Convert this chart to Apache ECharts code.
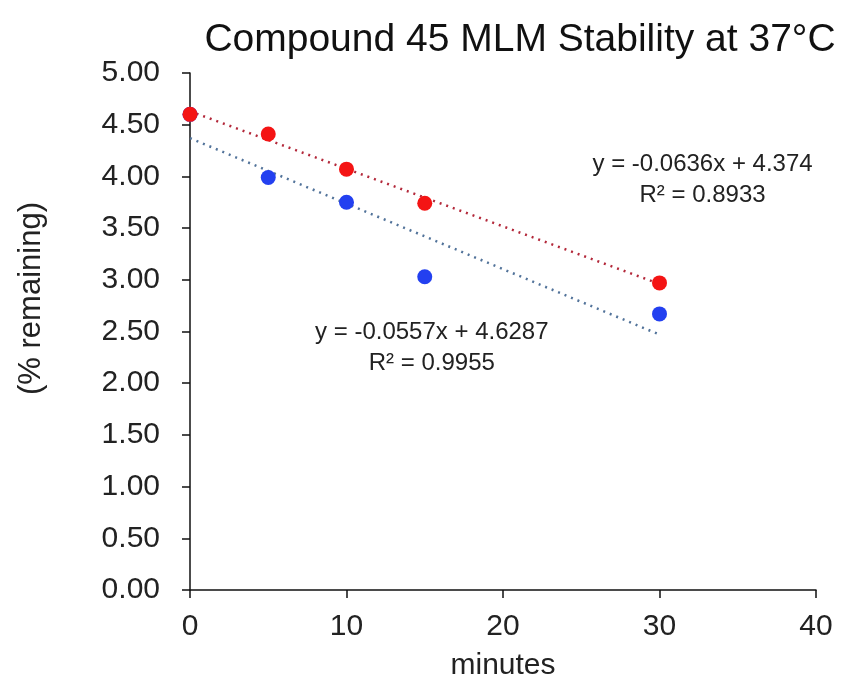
<!DOCTYPE html>
<html>
<head>
<meta charset="utf-8">
<title>Compound 45 MLM Stability</title>
<script src="https://cdn.jsdelivr.net/npm/echarts@6/dist/echarts.min.js"></script>
<style>
  html, body { margin: 0; padding: 0; background: #fff; }
  #main { width: 847px; height: 687px; }
</style>
</head>
<body>
<div id="main"></div>
<script>
const minutes = [0, 5, 10, 15, 30];
const redValues = [4.60, 4.41, 4.07, 3.74, 2.97];
const blueValues = [4.60, 3.99, 3.75, 3.03, 2.67];

// trendline end points
const redTrend = [[0, 4.63], [30, 2.96]];
const blueTrend = [[0, 4.37], [30, 2.47]];

const redLabel = "y = -0.0557x + 4.6287\nR² = 0.9955";
const redLabelAt = [15.45, 2.34];
const blueLabel = "y = -0.0636x + 4.374\nR² = 0.8933";
const blueLabelAt = [32.75, 3.97];

const font = "'Liberation Sans', Arial, sans-serif";

const chart = echarts.init(document.getElementById("main"));

const eqLabel = (text, at) => ({
  silent: true,
  symbol: "circle",
  symbolSize: 0,
  data: [{ coord: at }],
  label: {
    show: true,
    position: "inside",
    formatter: text,
    color: "#222",
    fontFamily: font,
    fontSize: 24,
    lineHeight: 31,
    align: "center",
    verticalAlign: "middle",
  },
});

const option = {
  animation: false,
  backgroundColor: "#fff",
  title: {
    text: "Compound 45 MLM Stability at 37°C",
    left: 515,
    top: 16,
    textAlign: "center",
    textStyle: {
      color: "#111",
      fontFamily: font,
      fontSize: 39,
      fontWeight: "normal",
    },
  },
  grid: { left: 190, right: 31, top: 73, bottom: 97 },
  xAxis: {
    type: "value",
    min: 0,
    max: 40,
    interval: 10,
    name: "minutes",
    nameLocation: "middle",
    nameGap: 61,
    nameTextStyle: { color: "#222", fontFamily: font, fontSize: 30 },
    axisLine: { show: true, lineStyle: { color: "#111", width: 1.5 } },
    axisTick: { show: true, length: 8, lineStyle: { color: "#111", width: 1.5 } },
    axisLabel: { color: "#222", fontFamily: font, fontSize: 30, margin: 22 },
    splitLine: { show: false },
  },
  yAxis: {
    type: "value",
    min: 0,
    max: 5,
    interval: 0.5,
    name: "(% remaining)",
    nameLocation: "middle",
    nameGap: 143,
    nameTextStyle: {
      color: "#222",
      fontFamily: font,
      fontSize: 31,
      padding: [0, 0, 0, 66],
    },
    axisLine: { show: true, onZero: false, lineStyle: { color: "#111", width: 1.5 } },
    axisTick: { show: true, length: 8, lineStyle: { color: "#111", width: 1.5 } },
    axisLabel: {
      color: "#222",
      fontFamily: font,
      fontSize: 30,
      margin: 30,
      formatter: (v) => v.toFixed(2),
    },
    splitLine: { show: false },
  },
  series: [
    {
      name: "red trend",
      type: "line",
      data: redTrend,
      symbol: "none",
      z: 1,
      lineStyle: { color: "#b3283a", width: 2.5, type: [2, 5] },
      markPoint: eqLabel(redLabel, redLabelAt),
    },
    {
      name: "blue trend",
      type: "line",
      data: blueTrend,
      symbol: "none",
      z: 1,
      lineStyle: { color: "#52739a", width: 2.5, type: [2, 5] },
      markPoint: eqLabel(blueLabel, blueLabelAt),
    },
    {
      name: "blue",
      type: "scatter",
      data: minutes.map((m, i) => [m, blueValues[i]]),
      symbol: "circle",
      symbolSize: 15,
      z: 2,
      itemStyle: { color: "#2340f0", opacity: 1 },
    },
    {
      name: "red",
      type: "scatter",
      data: minutes.map((m, i) => [m, redValues[i]]),
      symbol: "circle",
      symbolSize: 15,
      z: 3,
      itemStyle: { color: "#f41414", opacity: 1 },
    },
  ],
};

chart.setOption(option);
window.addEventListener("resize", () => chart.resize());
</script>
</body>
</html>
